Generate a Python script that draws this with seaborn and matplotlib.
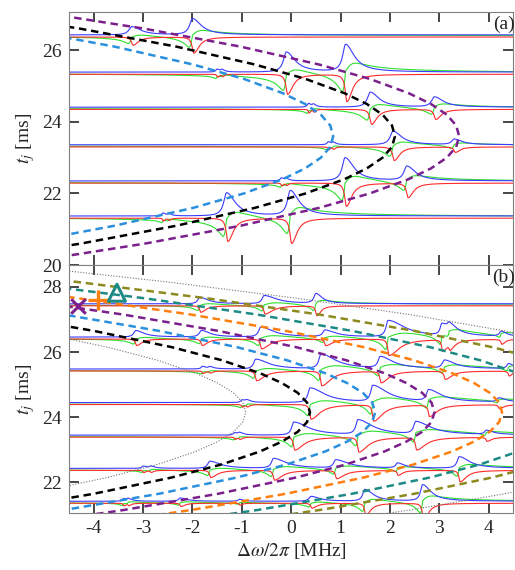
import numpy as np
import matplotlib.pyplot as plt
import seaborn as sns

sns.set_style("ticks")
plt.rcParams['font.family'] = ['Liberation Serif', 'DejaVu Serif']
plt.rcParams['mathtext.fontset'] = 'stix'

#### data ####
# dashed resonance branches, panel (a): x positions at shared t values
t_a = [19.6, 20.1, 20.6, 21.1, 21.6, 22.0, 22.4, 22.7, 23.0, 23.3, 23.6, 23.9, 24.2, 24.5, 24.8,
       25.2, 25.6, 26.1, 26.6, 27.1, 27.6]
blue_a = [-10.46, -7.81, -5.51, -3.57, -1.98, -0.96, -0.17, 0.28, 0.60, 0.79, 0.85, 0.79, 0.60, 0.28,
          -0.17, -0.96, -1.98, -3.57, -5.51, -7.81, -10.46]
black_a = [-9.21, -6.56, -4.26, -2.32, -0.73, 0.29, 1.08, 1.53, 1.85, 2.04, 2.10, 2.04, 1.85, 1.53,
           1.08, 0.29, -0.73, -2.32, -4.26, -6.56, -9.21]
purple_a = [-7.91, -5.26, -2.96, -1.02, 0.57, 1.59, 2.38, 2.83, 3.15, 3.34, 3.40, 3.34, 3.15, 2.83,
            2.38, 1.59, 0.57, -1.02, -2.96, -5.26, -7.91]

# panel (b)
t_b = [19.65, 20.15, 20.65, 21.15, 21.65, 22.15, 22.55, 22.95, 23.25, 23.55, 23.85, 24.15, 24.45,
       24.75, 25.05, 25.35, 25.75, 26.15, 26.65, 27.15, 27.65, 28.15, 28.65]
black_b = [-13.80, -10.82, -8.20, -5.92, -4.00, -2.42, -1.41, -0.63, -0.19, 0.13, 0.32, 0.38, 0.32,
           0.13, -0.19, -0.63, -1.41, -2.42, -4.00, -5.92, -8.20, -10.82, -13.80]
blue_b = [-12.48, -9.50, -6.88, -4.60, -2.68, -1.10, -0.09, 0.69, 1.13, 1.45, 1.64, 1.70, 1.64,
          1.45, 1.13, 0.69, -0.09, -1.10, -2.68, -4.60, -6.88, -9.50, -12.48]
purple_b = [-11.28, -8.30, -5.68, -3.40, -1.48, 0.10, 1.11, 1.89, 2.33, 2.65, 2.84, 2.90, 2.84,
            2.65, 2.33, 1.89, 1.11, 0.10, -1.48, -3.40, -5.68, -8.30, -11.28]
orange_b = [-9.91, -6.93, -4.31, -2.03, -0.11, 1.47, 2.48, 3.26, 3.70, 4.02, 4.21, 4.27, 4.21,
            4.02, 3.70, 3.26, 2.48, 1.47, -0.11, -2.03, -4.31, -6.93, -9.91]
teal_b = [-8.57, -5.59, -2.97, -0.69, 1.23, 2.81, 3.82, 4.60, 5.04, 5.36, 5.55, 5.61, 5.55,
          5.36, 5.04, 4.60, 3.82, 2.81, 1.23, -0.69, -2.97, -5.59, -8.57]
olive_b = [-7.31, -4.33, -1.71, 0.57, 2.49, 4.07, 5.08, 5.86, 6.30, 6.62, 6.81, 6.87, 6.81,
           6.62, 6.30, 5.86, 5.08, 4.07, 2.49, 0.57, -1.71, -4.33, -7.31]
inner_dot_b = [-15.10, -12.12, -9.50, -7.22, -5.30, -3.72, -2.71, -1.93, -1.49, -1.17, -0.98, -0.92,
               -0.98, -1.17, -1.49, -1.93, -2.71, -3.72, -5.30, -7.22, -9.50, -12.12, -15.10]
outer_dot_b = [-5.48, -2.50, 0.12, 2.40, 4.32, 5.90, 6.91, 7.69, 8.13, 8.45, 8.64, 8.70, 8.64,
               8.45, 8.13, 7.69, 6.91, 5.90, 4.32, 2.40, 0.12, -2.50, -5.48]

# spectra: baseline t_j of each trace and its resonances (position, height, width, right tail)
base_a = [21.34, 22.32, 23.33, 24.38, 25.36, 26.40]
res_a = [
    [(-2.6, 0.08, 0.03, 2), (-2.48, 0.06, 0.03, 2), (-1.31, 0.65, 0.07, 3), (-0.02, 0.70, 0.07, 3)],
    [(-0.2, 0.08, 0.03, 2), (-0.1, 0.06, 0.03, 2), (1.09, 0.65, 0.07, 3), (2.34, 0.40, 0.07, 3)],
    [(0.75, 0.08, 0.03, 2), (0.85, 0.06, 0.03, 2), (2.06, 0.38, 0.07, 3), (3.30, 0.15, 0.06, 3)],
    [(0.35, 0.10, 0.03, 2), (0.45, 0.07, 0.03, 2), (1.60, 0.42, 0.07, 3), (2.90, 0.28, 0.07, 3)],
    [(-1.5, 0.08, 0.03, 2), (-1.4, 0.06, 0.03, 2), (-0.10, 0.56, 0.07, 3), (1.10, 0.76, 0.07, 3)],
    [(-3.23, 0.23, 0.07, 3), (-2.0, 0.45, 0.07, 3)],
]
base_b = [21.39, 22.40, 23.42, 24.42, 25.45, 26.43, 27.45]
res_b = [
    [(-3.4, 0.08, 0.03, 3), (-3.3, 0.06, 0.03, 3), (-2.25, 0.10, 0.04, 4), (-1.05, 0.06, 0.03, 3),
     (0.40, 0.15, 0.05, 4), (1.49, 0.36, 0.05, 4), (2.66, 0.50, 0.05, 4)],
    [(-3.0, 0.07, 0.03, 3), (-2.85, 0.06, 0.03, 3), (-1.65, 0.22, 0.05, 5), (-0.36, 0.30, 0.05, 6),
     (0.90, 0.25, 0.05, 6), (2.15, 0.15, 0.04, 4), (3.40, 0.35, 0.05, 5)],
    [(-1.15, 0.07, 0.03, 3), (-1.05, 0.06, 0.03, 3), (0.05, 0.40, 0.05, 7), (1.35, 0.45, 0.05, 7),
     (2.52, 0.38, 0.05, 7), (3.95, 0.12, 0.04, 4)],
    [(-1.0, 0.08, 0.03, 3), (-0.9, 0.06, 0.03, 3), (0.38, 0.45, 0.05, 7), (1.65, 0.50, 0.05, 7),
     (2.78, 0.35, 0.05, 6), (4.20, 0.12, 0.04, 4)],
    [(-1.8, 0.08, 0.03, 3), (-1.65, 0.06, 0.03, 3), (-0.72, 0.30, 0.05, 6), (0.60, 0.45, 0.05, 7),
     (1.80, 0.35, 0.05, 6), (3.10, 0.25, 0.05, 5), (4.40, 0.15, 0.04, 3)],
    [(-3.15, 0.20, 0.05, 4), (-1.82, 0.20, 0.05, 4), (-0.62, 0.30, 0.05, 6), (0.68, 0.20, 0.05, 5),
     (1.96, 0.50, 0.05, 8), (3.05, 0.35, 0.04, 5), (3.20, 0.20, 0.04, 5), (4.25, 0.15, 0.04, 3)],
    [(-1.85, 0.20, 0.05, 4), (-0.55, 0.25, 0.05, 6), (0.50, 0.30, 0.05, 3)],
]

# markers in panel (b)
mark_x = [-4.32, -3.92, -3.53]
mark_t = [27.42, 27.61, 27.82]

xticks = [-4, -3, -2, -1, 0, 1, 2, 3, 4]
yticks_a = [20, 22, 24, 26]
yticks_b = [22, 24, 26, 28]

BLUE, RED, GREEN = "#3b3bff", "#ff2a2a", "#2ee02e"
C_BLUE, C_PURPLE, C_ORANGE = "#2a8fdc", "#7b1f8c", "#ff7f0e"
C_TEAL, C_OLIVE = "#1d8a86", "#8c8a1e"

xg = np.linspace(-4.5, 4.5, 1800)


def resonance(x0, w, tail):
    u = (xg - x0) / np.where(xg < x0, w, w * tail)
    return 1 / (1 + u**2), 2 * u / (1 + u**2)


def draw_traces(ax, bases, resonances):
    for base, feats in zip(bases, resonances):
        blue = np.full_like(xg, base + 0.03)
        red = np.full_like(xg, base - 0.03)
        green = np.full_like(xg, base)
        for x0, amp, w, tail in feats:
            lb, db = resonance(x0, w, tail)
            lr, _ = resonance(x0 + 0.4 * w, 0.6 * w, tail)
            blue += amp * lb
            red -= amp * lr
            green += amp * np.where(db < 0, 0.75 * db, 0.3 * db)
        for y, c in ((green, GREEN), (red, RED), (blue, BLUE)):
            sns.lineplot(x=xg, y=y, ax=ax, color=c, lw=0.8, estimator=None, sort=False)


def dashed(ax, xs, ts, color, ls=(0, (3.0, 1.9)), lw=1.8):
    sns.lineplot(x=xs, y=ts, ax=ax, color=color, lw=lw, linestyle=ls, estimator=None, sort=False)


fig = plt.figure(figsize=(5.15, 5.7), dpi=100)
ax_a = fig.add_axes([0.134, 0.535, 0.863, 0.444])
ax_b = fig.add_axes([0.134, 0.100, 0.863, 0.435])

draw_traces(ax_a, base_a, res_a)
dashed(ax_a, blue_a, t_a, C_BLUE)
dashed(ax_a, black_a, t_a, "black")
dashed(ax_a, purple_a, t_a, C_PURPLE)

draw_traces(ax_b, base_b, res_b)
dashed(ax_b, inner_dot_b, t_b, "0.45", ls=(0, (1, 1.5)), lw=0.8)
dashed(ax_b, outer_dot_b, t_b, "0.45", ls=(0, (1, 1.5)), lw=0.8)
dashed(ax_b, black_b, t_b, "black")
dashed(ax_b, blue_b, t_b, C_BLUE)
dashed(ax_b, purple_b, t_b, C_PURPLE)
dashed(ax_b, orange_b, t_b, C_ORANGE)
dashed(ax_b, teal_b, t_b, C_TEAL)
dashed(ax_b, olive_b, t_b, C_OLIVE)

sns.scatterplot(x=mark_x[:1], y=mark_t[:1], ax=ax_b, marker="x", s=110, color=C_PURPLE, linewidth=2.2, zorder=5)
sns.scatterplot(x=mark_x[1:2], y=mark_t[1:2], ax=ax_b, marker="+", s=220, color=C_ORANGE, linewidth=2.4, zorder=5)
sns.scatterplot(x=mark_x[2:], y=mark_t[2:], ax=ax_b, marker="^", s=150, facecolor="none",
                edgecolor=C_TEAL, linewidth=2.2, zorder=5)

for ax, yt, lim, tag in ((ax_a, yticks_a, (20, 27.07), "(a)"), (ax_b, yticks_b, (21.06, 28.67), "(b)")):
    ax.set_xlim(-4.5, 4.5)
    ax.set_ylim(*lim)
    ax.set_xticks(xticks)
    ax.set_yticks(yt)
    ax.tick_params(direction="in", top=True, right=True, length=7, width=1.2, labelsize=14, pad=5)
    for s in ax.spines.values():
        s.set_color("0.5")
    ax.set_ylabel("$t_j$ [ms]", fontsize=14, labelpad=4)
    ax.text(1.003, 0.985, tag, transform=ax.transAxes, ha="right", va="top", fontsize=14)

ax_a.set_xticklabels([])
ax_a.set_xlabel("")
ax_b.set_xticklabels([f"{v}" for v in xticks])
ax_b.set_xlabel(r"$\Delta\omega/2\pi$ [MHz]", fontsize=14, labelpad=3)

plt.savefig("out.png", dpi=100)
